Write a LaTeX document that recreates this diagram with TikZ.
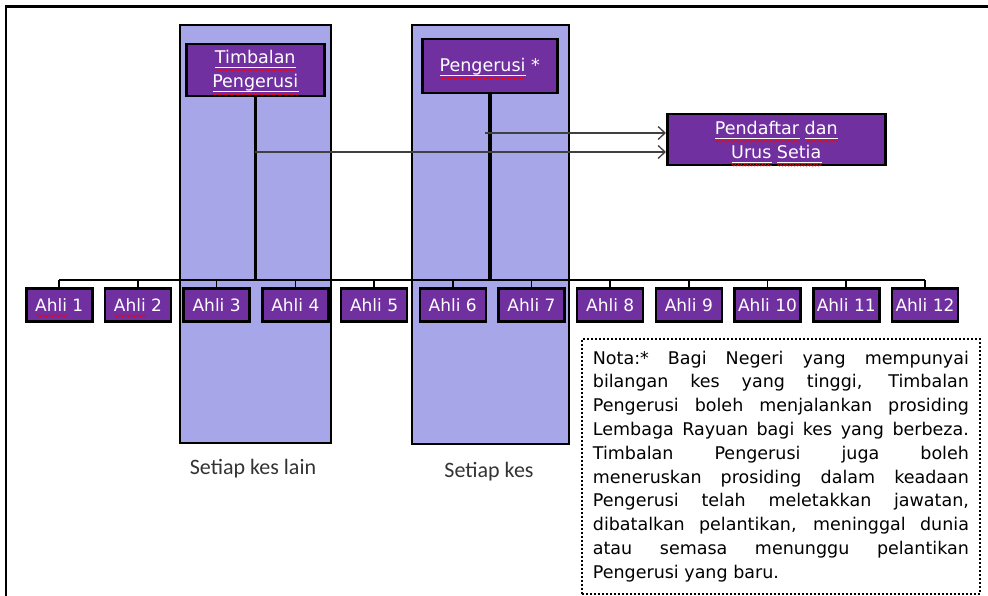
\documentclass[tikz,border=0pt]{standalone}
\usepackage{fontspec}
\setmainfont{DejaVu Sans}
\newfontfamily\calib{Carlito}
\usetikzlibrary{arrows.meta,decorations.pathmorphing}
\definecolor{panelc}{HTML}{A6A6E8}
\definecolor{boxc}{HTML}{7030A0}
\definecolor{arrc}{HTML}{404040}
\definecolor{capc}{HTML}{333333}
\newlength\wlen
\tikzset{redwave/.style={draw=red,line width=0.6pt,decorate,decoration={zigzag,segment length=3pt,amplitude=0.9pt}}}
% red spell-check wave only
\newcommand\rw[1]{\settowidth\wlen{#1}\rlap{\smash{\tikz[baseline=0pt]{\path[redwave] (0pt,-4.5pt) -- (\wlen,-4.5pt);}}}#1}
% white underline plus red wave
\newcommand\rwu[1]{\settowidth\wlen{#1}\rlap{\smash{\tikz[baseline=0pt]{\draw[white,line width=0.8pt] (0pt,-4pt) -- (\wlen,-4pt); \path[redwave] (0pt,-7pt) -- (\wlen,-7pt);}}}#1}
\begin{document}
\begin{tikzpicture}[x=1pt,y=-1pt,
  panel/.style={draw,line width=2pt,fill=panelc,anchor=north west,inner sep=0pt},
  pbox/.style={draw,line width=2.5pt,fill=boxc,text=white,anchor=north west,inner sep=0pt,
     align=center,font=\fontsize{17.5}{24}\selectfont},
  ahli/.style={pbox,minimum width=66pt,minimum height=33pt,font=\fontsize{17}{24}\selectfont},
  conn/.style={line width=1.6pt},
  trunk/.style={line width=3.5pt},
  arr/.style={draw=arrc,line width=1.3pt,-{Straight Barb[length=7pt,width=13pt]}},
  caption/.style={font=\calib\fontsize{22}{26}\selectfont,text=capc}
]
\useasboundingbox (0,0) rectangle (988,596);
% outer frame
\draw[line width=2.5pt] (6,600) -- (6,6.5) -- (992,6.5);
% panels
\node[panel,minimum width=151pt,minimum height=418pt] (p1) at (179,24) {};
\node[panel,minimum width=157pt,minimum height=419pt] (p2) at (411,24) {};
% top boxes
\node[pbox,minimum width=138pt,minimum height=52pt] (tp) at (185,43)
  {\rwu{Timbalan}\\\rwu{Pengerusi}};
\node[pbox,minimum width=135pt,minimum height=54pt] (pg) at (421,38)
  {\rwu{Pengerusi} *};
\node[pbox,minimum width=218pt,minimum height=51pt] (pd) at (666,113)
  {\rwu{Pendaftar} \rwu{dan}\\\rwu{Urus} \rwu{Setia}};
% members
\foreach \i in {1,...,12} {
  \pgfmathsetmacro\xx{25+(\i-1)*78.7}
  \node[ahli] (a\i) at (\xx,287) {\ifnum\i<3 \rw{Ahli}\else Ahli\fi\ \i};
}
\coordinate (busy) at (0,280);
\draw[conn] (a1.north |- busy) -- (a12.north |- busy);
\foreach \i in {1,...,12} \draw[conn] (a\i.north) -- (a\i.north |- busy);
\draw[trunk] (tp.south) -- (tp.south |- busy);
\draw[trunk] (pg.south) -- (pg.south |- busy);
% arrows to Pendaftar
\coordinate (y152) at (0,152);
\coordinate (s2) at (485,133);
\draw[arr] (tp.south |- y152) -- (pd.west |- y152);
\draw[arr] (s2) -- (pd.west |- s2);
% captions
\node[caption] (c1) at (253,469) {Setiap kes lain};
\node[caption] (c2) at (489,472) {Setiap kes};
% note
\node[draw,line width=1.8pt,dash pattern=on 2pt off 2pt,anchor=north west,inner xsep=11pt,inner ysep=0pt,
  minimum height=255pt,text width=376pt,align=justify,font=\fontsize{17.5}{23.8}\selectfont] (nota) at (581,338)
{Nota:* Bagi Negeri yang mempunyai\linebreak
bilangan kes yang tinggi, Timbalan\linebreak
Pengerusi boleh menjalankan prosiding\linebreak
Lembaga Rayuan bagi kes yang berbeza.\linebreak
Timbalan Pengerusi juga boleh\linebreak
meneruskan prosiding dalam keadaan\linebreak
Pengerusi telah meletakkan jawatan,\linebreak
dibatalkan pelantikan, meninggal dunia\linebreak
atau semasa menunggu pelantikan\linebreak
Pengerusi yang baru.};
\end{tikzpicture}
\end{document}
